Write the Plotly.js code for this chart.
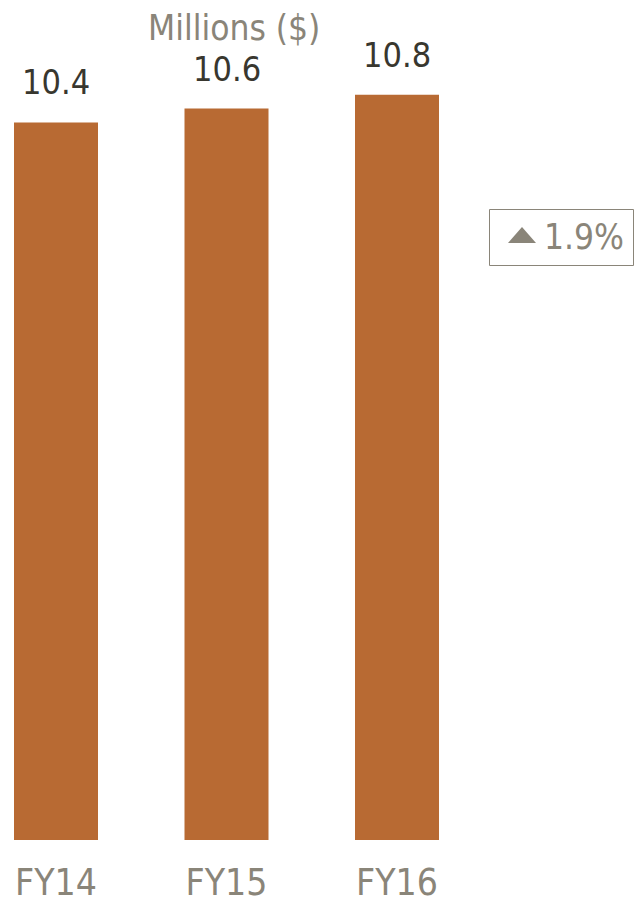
<!DOCTYPE html>
<html>
<head>
<meta charset="utf-8">
<script src="https://cdn.plot.ly/plotly-3.0.1.min.js"></script>
<style>html,body{margin:0;padding:0;background:#fff}#chart{width:634px;height:903px}</style>
</head>
<body>
<div id="chart"></div>
<script>
const categories = ["FY14", "FY15", "FY16"];
const values = [10.4, 10.6, 10.8];
const valueLabels = ["10.4", "10.6", "10.8"];
const unitLabel = "Millions ($)";
const changeLabel = "1.9%";

const FONT = "'DejaVu Sans Condensed', 'Liberation Sans Narrow', sans-serif";
const GRAY = "#8a8579";
const DARK = "#38372f";
const BAR = "#b86a33";

const W = 634, H = 903, PLOT_H = 840;
const pxPerCat = 170.5, firstCenter = 56;
const r0 = -firstCenter / pxPerCat;
const r1 = r0 + W / pxPerCat;
const yMax = PLOT_H / 69;

const trace = {
  type: "bar",
  x: categories.map((c, i) => i),
  y: values,
  width: 84 / pxPerCat,
  marker: { color: BAR },
  hoverinfo: "skip"
};

const annotations = values.map((v, i) => ({
  x: i, y: v, xref: "x", yref: "y",
  text: valueLabels[i],
  showarrow: false,
  yanchor: "bottom",
  yshift: 18,
  font: { family: FONT, size: 34, color: DARK }
}));

annotations.push({
  x: 234 / W, y: 1, xref: "paper", yref: "paper",
  text: unitLabel, showarrow: false, yanchor: "middle", yshift: -28,
  font: { family: FONT, size: 35, color: GRAY }
});

annotations.push({
  x: 542 / W, y: (PLOT_H - 237) / PLOT_H, xref: "paper", yref: "paper",
  text: changeLabel,
  showarrow: false, yanchor: "middle", xanchor: "left",
  font: { family: FONT, size: 35, color: GRAY }
});

const layout = {
  width: W, height: H,
  margin: { l: 0, r: 0, t: 0, b: H - PLOT_H, pad: 0 },
  paper_bgcolor: "#fff", plot_bgcolor: "#fff",
  showlegend: false,
  xaxis: {
    range: [r0, r1],
    tickmode: "array",
    tickvals: categories.map((c, i) => i),
    ticktext: categories,
    showgrid: false, zeroline: false, showline: false, ticks: "",
    tickfont: { family: FONT, size: 37, color: GRAY },
    ticklabelstandoff: 17,
    fixedrange: true
  },
  yaxis: {
    range: [0, yMax],
    visible: false, showgrid: false, zeroline: false,
    fixedrange: true
  },
  shapes: [{
    type: "rect", xref: "paper", yref: "paper",
    x0: 489.5 / W, x1: 633.5 / W,
    y0: (PLOT_H - 265.5) / PLOT_H, y1: (PLOT_H - 209.5) / PLOT_H,
    line: { color: GRAY, width: 1 }
  }, {
    type: "path", xref: "paper", yref: "paper",
    path: "M " + (508 / W) + " " + ((PLOT_H - 243) / PLOT_H) +
          " L " + (536 / W) + " " + ((PLOT_H - 243) / PLOT_H) +
          " L " + (522 / W) + " " + ((PLOT_H - 227) / PLOT_H) + " Z",
    fillcolor: GRAY, line: { width: 0 }
  }],
  annotations: annotations
};

Plotly.newPlot("chart", [trace], layout, { staticPlot: true, displayModeBar: false });
</script>
</body>
</html>
